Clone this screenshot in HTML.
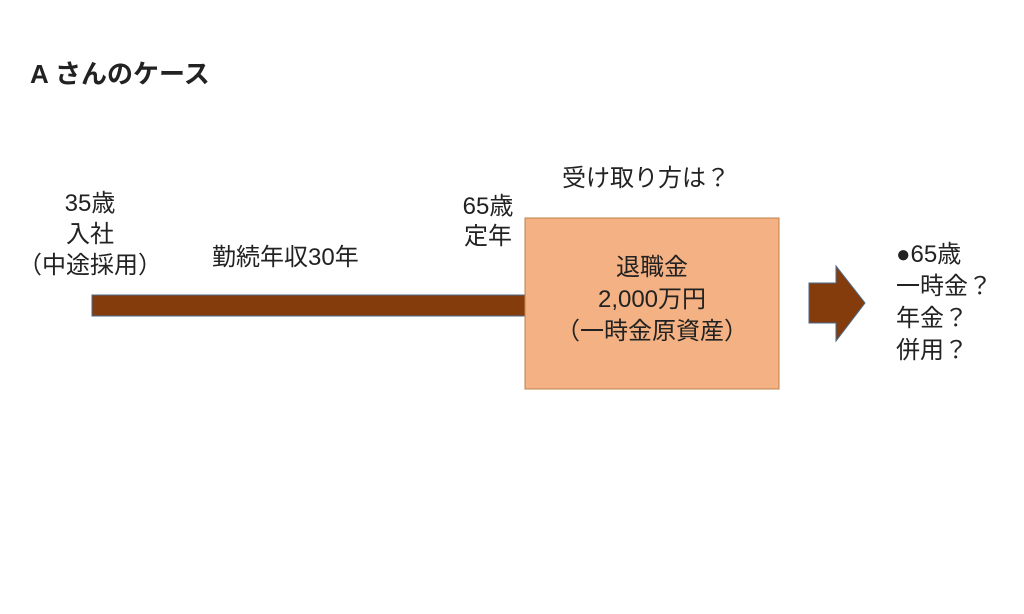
<!DOCTYPE html>
<html><head><meta charset="utf-8"><style>
body{margin:0;width:1024px;height:614px;background:#fff;position:relative;overflow:hidden;font-family:"Liberation Sans","Noto Sans CJK JP",sans-serif;color:#222}
.t{position:absolute;font-size:24px;line-height:32px;text-align:center;white-space:nowrap}
</style></head><body>
<div class="t" style="left:30px;top:58px;font-size:26px;font-weight:bold;text-align:left">A さんのケース</div>
<div class="t" style="left:15px;top:188px;width:150px;line-height:31px">35歳<br>入社<br>（中途採用）</div>
<div class="t" style="left:212px;top:242px;text-align:left">勤続年収30年</div>
<div class="t" style="left:438px;top:192px;width:100px;line-height:30px">65歳<br>定年</div>
<div class="t" style="left:562px;top:163px;text-align:left">受け取り方は？</div>
<svg style="position:absolute;left:0;top:0" width="1024" height="614">
<rect x="92" y="295" width="434" height="21" fill="#843c0c" stroke="#4a6a8a" stroke-width="1"/>
<rect x="525" y="218" width="254" height="171" fill="#f4b183" stroke="#c0804a" stroke-width="1"/>
<polygon points="809,283 836,283 836,266 865,303 836,341 836,323 809,323" fill="#843c0c" stroke="#4a6a8a" stroke-width="1"/>
</svg>
<div class="t" style="left:515px;top:252px;width:274px">退職金<br>2,000万円<br>（一時金原資産）</div>
<div class="t" style="left:896px;top:239px;text-align:left">●65歳<br>一時金？<br>年金？<br>併用？</div>
</body></html>
